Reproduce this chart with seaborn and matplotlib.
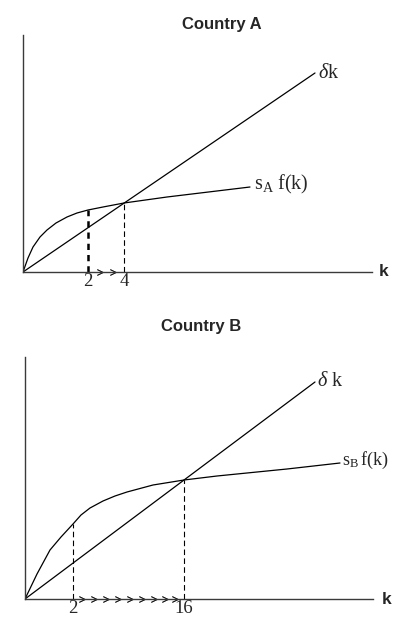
import matplotlib
matplotlib.use("Agg")
import matplotlib.pyplot as plt
import seaborn as sns
import pandas as pd

sns.set_style("white")
plt.rcParams["font.family"] = ["Liberation Sans", "DejaVu Sans"]
plt.rcParams["mathtext.fontset"] = "custom"
plt.rcParams["mathtext.rm"] = "Liberation Serif"
plt.rcParams["mathtext.it"] = "Liberation Serif:italic"

# ---- Country A (capital k on x, investment / depreciation on y) ----
a_depr_k = [0, 292]
a_depr_y = [0, 199]
a_save_k = [0, 5, 10, 17, 24, 33, 44, 54, 65, 80, 101, 144, 227]
a_save_y = [0, 14, 25, 35, 42, 49, 55, 59, 62, 65, 69, 75, 85]
a_ticks_pos = [65, 101]
a_ticks_lab = ["2", "4"]
a_start_y = 62       # s_A f(k) at k = 2
a_steady_y = 69      # steady state
a_arrows = [77, 90]

# ---- Country B ----
b_depr_k = [0, 290]
b_depr_y = [0, 217]
b_save_k = [0, 12, 25, 36, 48, 56, 65, 78, 90, 102, 128, 159, 192, 262, 315]
b_save_y = [0, 25, 49, 62, 75, 84, 91, 98, 103, 107, 114, 119, 123, 130, 136]
b_ticks_pos = [48, 159]
b_ticks_lab = ["2", "16"]
b_start_y = 75
b_steady_y = 119
b_arrows = [57, 69, 81, 93, 105, 117, 129, 140, 150]

W, H = 393, 618
fig = plt.figure(figsize=(W / 100, H / 100), dpi=100)


def panel(rect, xmax, ymax, depr_k, depr_y, save_k, save_y, ticks_pos, ticks_lab,
          start_y, steady_y, arrows, thick_start):
    l, b, r, t = rect
    ax = fig.add_axes([l / W, 1 - b / H, (r - l) / W, (b - t) / H])
    ax.set_xlim(0, xmax)
    ax.set_ylim(0, ymax)
    for s in ("top", "right"):
        ax.spines[s].set_visible(False)
    for s in ("left", "bottom"):
        ax.spines[s].set_color("#3a3a3a")
        ax.spines[s].set_linewidth(1.0)
    depr = pd.DataFrame({"k": depr_k, "y": depr_y})
    save = pd.DataFrame({"k": save_k, "y": save_y})
    sns.lineplot(data=depr, x="k", y="y", ax=ax, color="black", lw=0.9,
                 sort=False, estimator=None)
    sns.lineplot(data=save, x="k", y="y", ax=ax, color="black", lw=0.9,
                 sort=False, estimator=None)
    # dashed guides at the starting and steady-state capital
    if thick_start:
        ax.plot([ticks_pos[0]] * 2, [0, start_y], color="black", lw=1.8,
                dashes=(2.5, 2))
    else:
        ax.plot([ticks_pos[0]] * 2, [0, start_y], color="black", lw=0.8,
                dashes=(5, 3))
    ax.plot([ticks_pos[1]] * 2, [0, steady_y], color="black", lw=0.8,
            dashes=(5, 3))
    # direction of capital accumulation
    ax.plot(arrows, [0] * len(arrows), ls="none", marker="$>$", ms=4.5,
            mew=0.3, color="black", clip_on=False)
    ax.set_xticks(ticks_pos)
    ax.set_xticklabels(ticks_lab, family="Liberation Serif", fontsize=13.5)
    ax.set_yticks([])
    ax.tick_params(axis="x", length=0, pad=1)
    ax.set_xlabel("")
    ax.set_ylabel("")
    return ax


ax_a = panel((23, 272, 372, 35), 349, 237, a_depr_k, a_depr_y, a_save_k,
             a_save_y, a_ticks_pos, a_ticks_lab, a_start_y, a_steady_y,
             a_arrows, True)
ax_a.text(295, 200, r"$\mathit{\delta}\mathrm{k}$", fontsize=14.5, va="center",
          ha="left")
ax_a.text(231, 88, r"$\mathrm{s_A\ f(k)}$", fontsize=14.5, va="center", ha="left")
ax_a.text(356, 0, "k", fontsize=12.5, fontweight="bold", va="center", ha="left")
fig.text(222 / W, 1 - 24 / H, "Country A", fontsize=12, fontweight="bold",
         ha="center", va="center")

ax_b = panel((25, 599, 373, 357), 348, 242, b_depr_k, b_depr_y, b_save_k,
             b_save_y, b_ticks_pos, b_ticks_lab, b_start_y, b_steady_y,
             b_arrows, False)
ax_b.text(292, 219, r"$\mathit{\delta}\ \mathrm{k}$", fontsize=14.5, va="center",
          ha="left")
ax_b.text(317, 139, r"$\mathrm{s_B\,f(k)}$", fontsize=13, va="center", ha="left")
ax_b.text(357, 0, "k", fontsize=12.5, fontweight="bold", va="center", ha="left")
fig.text(201 / W, 1 - 327 / H, "Country B", fontsize=12, fontweight="bold",
         ha="center", va="center")

fig.savefig("out.png", dpi=100)
